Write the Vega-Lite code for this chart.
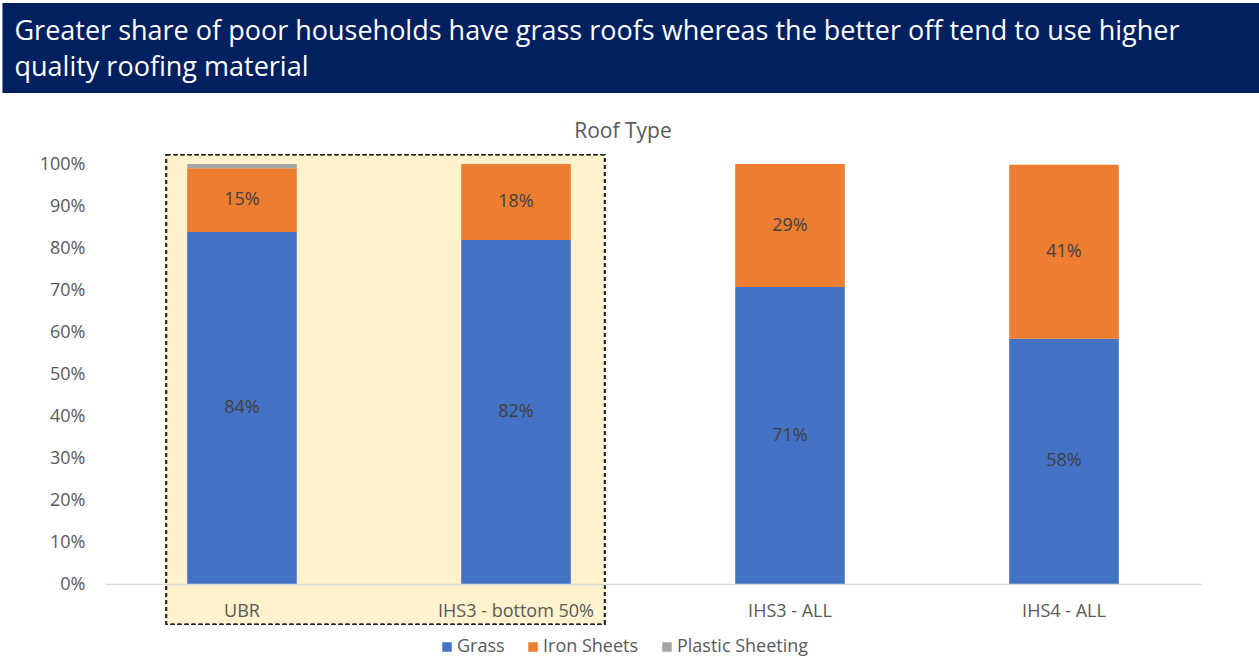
{
  "$schema": "https://vega.github.io/schema/vega-lite/v6.json",
  "background": "white",
  "padding": {"left": 2, "top": 3, "right": 0, "bottom": 0},
  "config": {"font": "Open Sans", "view": {"stroke": null}},
  "spacing": 28,
  "vconcat": [
    {
      "width": 1154.5,
      "height": 90,
      "layer": [
        {
          "data": {"values": [{}]},
          "mark": {"type": "rect", "color": "#002060"},
          "encoding": {
            "x": {"datum": -0.0888, "type": "quantitative", "scale": {"domain": [0, 1], "nice": false, "zero": false}, "axis": null},
            "x2": {"datum": 1},
            "y": {"datum": -0.0278, "type": "quantitative", "scale": {"domain": [-0.0278, 2.4722], "reverse": true, "nice": false, "zero": false}, "axis": null},
            "y2": {"datum": 2.4722}
          }
        },
        {
          "data": {
            "values": [
              {"line": 1, "text": "Greater share of poor households have grass roofs whereas the better off tend to use higher"},
              {"line": 2, "text": "quality roofing material"}
            ]
          },
          "mark": {"type": "text", "align": "left", "baseline": "alphabetic", "fontSize": 27, "color": "white", "font": "Open Sans"},
          "encoding": {
            "x": {"datum": -0.0784, "type": "quantitative"},
            "y": {"field": "line", "type": "quantitative"},
            "text": {"field": "text"}
          }
        }
      ]
    },
    {
      "width": 1096,
      "height": 420,
      "title": {
        "text": "Roof Type",
        "frame": "group",
        "anchor": "middle",
        "dx": -30,
        "offset": 12,
        "fontSize": 21,
        "fontWeight": "normal",
        "color": "#595959"
      },
      "data": {
        "values": [
          {"survey": "UBR", "roof": "Grass", "share": 0.838},
          {"survey": "UBR", "roof": "Iron Sheets", "share": 0.152},
          {"survey": "UBR", "roof": "Plastic Sheeting", "share": 0.010},
          {"survey": "IHS3 - bottom 50%", "roof": "Grass", "share": 0.819},
          {"survey": "IHS3 - bottom 50%", "roof": "Iron Sheets", "share": 0.181},
          {"survey": "IHS3 - ALL", "roof": "Grass", "share": 0.707},
          {"survey": "IHS3 - ALL", "roof": "Iron Sheets", "share": 0.293},
          {"survey": "IHS4 - ALL", "roof": "Grass", "share": 0.584},
          {"survey": "IHS4 - ALL", "roof": "Iron Sheets", "share": 0.414}
        ]
      },
      "layer": [
        {
          "mark": {"type": "rect", "fill": "#FFF2CC", "stroke": "#262626", "strokeDash": [4, 3], "strokeWidth": 1.5},
          "encoding": {
            "x": {"datum": 0.2245, "type": "quantitative", "scale": {"domain": [0, 4], "nice": false, "zero": false}, "axis": null},
            "x2": {"datum": 1.823},
            "y": {"datum": 1.0214, "type": "quantitative"},
            "y2": {"datum": -0.0952}
          }
        },
        {
          "layer": [
            {
              "mark": {"type": "bar"},
              "encoding": {
                "x": {
                  "field": "survey", "type": "nominal",
                  "sort": ["UBR", "IHS3 - bottom 50%", "IHS3 - ALL", "IHS4 - ALL"],
                  "scale": {"paddingInner": 0.6, "paddingOuter": 0.3},
                  "axis": {"title": null, "labelAngle": 0, "labelFontSize": 18, "labelColor": "#595959", "ticks": false, "labelPadding": 18, "domainColor": "#D9D9D9", "domainWidth": 1.5, "grid": false, "zindex": 1}
                },
                "y": {
                  "field": "share", "type": "quantitative", "stack": "zero",
                  "scale": {"domain": [0, 1], "nice": false},
                  "axis": {"title": null, "values": [0, 0.1, 0.2, 0.3, 0.4, 0.5, 0.6, 0.7, 0.8, 0.9, 1.0], "format": ".0%", "labelFontSize": 18, "labelColor": "#595959", "ticks": false, "domain": false, "grid": false, "labelPadding": 20, "minExtent": 102.5, "maxExtent": 102.5, "zindex": 1}
                },
                "color": {
                  "field": "roof", "type": "nominal",
                  "scale": {"domain": ["Grass", "Iron Sheets", "Plastic Sheeting"], "range": ["#4472C4", "#ED7D31", "#A5A5A5"]},
                  "legend": {"orient": "none", "legendX": 333, "legendY": 635, "direction": "horizontal", "title": null, "symbolType": "square", "symbolSize": 90, "symbolStrokeWidth": 0, "labelFontSize": 18, "labelColor": "#595959", "columnPadding": 19, "labelOffset": 1}
                },
                "order": {"field": "roof", "type": "nominal", "sort": "ascending"}
              }
            },
            {
              "transform": [{"filter": "datum.roof != 'Plastic Sheeting'"}],
              "mark": {"type": "text", "fontSize": 18, "color": "#404040"},
              "encoding": {
                "x": {"field": "survey", "type": "nominal", "sort": ["UBR", "IHS3 - bottom 50%", "IHS3 - ALL", "IHS4 - ALL"]},
                "y": {"field": "share", "type": "quantitative", "stack": "zero", "bandPosition": 0.5},
                "detail": {"field": "roof"},
                "order": {"field": "roof", "type": "nominal", "sort": "ascending"},
                "text": {"field": "share", "type": "quantitative", "format": ".0%"}
              }
            }
          ]
        }
      ],
      "resolve": {"scale": {"x": "independent"}, "axis": {"x": "independent"}}
    }
  ]
}
